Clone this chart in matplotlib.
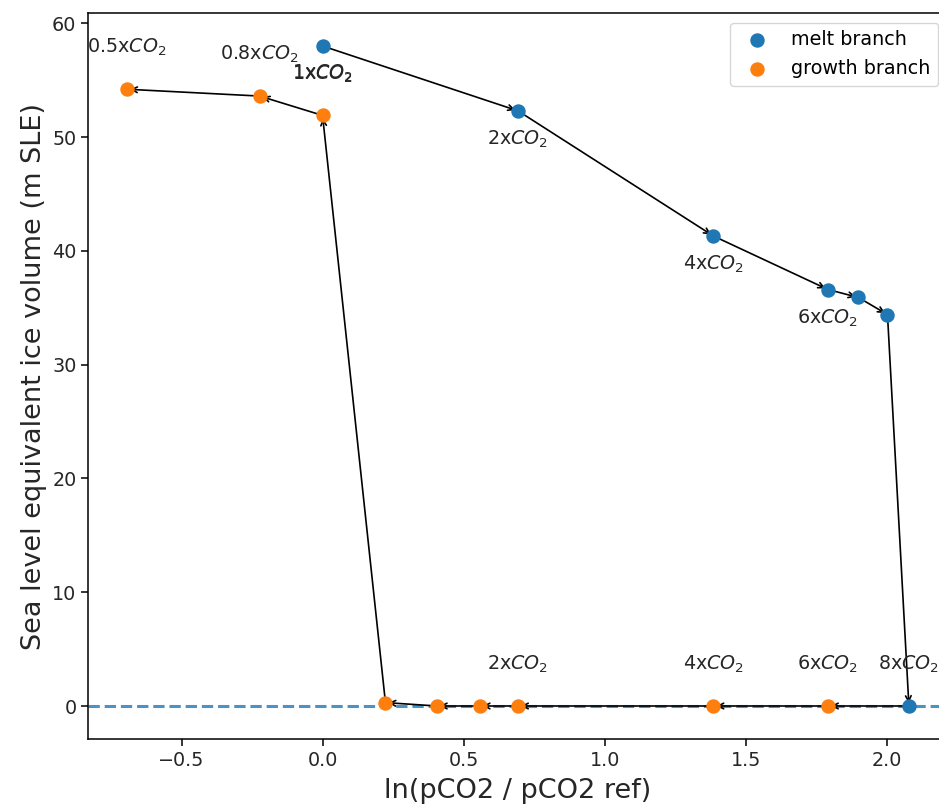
import matplotlib
matplotlib.use("Agg")
import matplotlib.pyplot as plt

# melt branch: ln(pCO2/pCO2 ref) and ice volume (m SLE)
melt_x = [0.0, 0.693, 1.386, 1.792, 1.900, 2.003, 2.079]
melt_y = [58.0, 52.3, 41.3, 36.6, 35.9, 34.4, 0.0]
melt_labels = ["1x", "2x", "4x", "6x", None, None, None]

# growth branch starts from the last melt state
growth_x = [2.079, 1.792, 1.386, 0.693, 0.557, 0.405, 0.223, 0.0, -0.223, -0.693]
growth_y = [0.0, 0.0, 0.0, 0.0, 0.0, 0.0, 0.3, 51.9, 53.6, 54.2]
growth_labels = ["8x", "6x", "4x", "2x", None, None, None, "1x", "0.8x", "0.5x"]

W, H = 939, 806
fig = plt.figure(figsize=(W / 100, H / 100), dpi=100)
ax = fig.add_axes([88 / W, (H - 739) / H, 860 / W, 726 / H])

ax.scatter(melt_x, melt_y, s=88, color="C0", label="melt branch", zorder=3)
ax.scatter(growth_x[1:], growth_y[1:], s=88, color="C1", label="growth branch", zorder=3)

arrow = dict(arrowstyle="->", color="black", lw=1.2)
for xs, ys in [(melt_x, melt_y), (growth_x, growth_y)]:
    for i in range(len(xs) - 1):
        ax.annotate("", xy=(xs[i + 1], ys[i + 1]), xytext=(xs[i], ys[i]),
                    arrowprops=arrow, zorder=2)

for x, y, lab in zip(melt_x, melt_y, melt_labels):
    if lab:
        ax.text(x, y - 2.5, lab + "$CO_2$", ha="center", va="center", fontsize=13.8, color="#262626")
for x, y, lab in zip(growth_x, growth_y, growth_labels):
    if lab:
        ax.text(x, y + 3.7, lab + "$CO_2$", ha="center", va="center", fontsize=13.8, color="#262626")

ax.axhline(0, ls="--", color="C0", alpha=0.8, lw=2.2, zorder=1)

ax.set_xlabel("ln(pCO2 / pCO2 ref)", fontsize=19.5, color="#262626", labelpad=6)
ax.set_ylabel("Sea level equivalent ice volume (m SLE)", fontsize=19.5, color="#262626")
ax.tick_params(labelsize=13.8, labelcolor="#262626", length=4.8, width=1.1)
for sp in ax.spines.values():
    sp.set_linewidth(1.1)
ax.legend(loc="upper right", fontsize=13.8)

fig.savefig("out.png", dpi=100)
